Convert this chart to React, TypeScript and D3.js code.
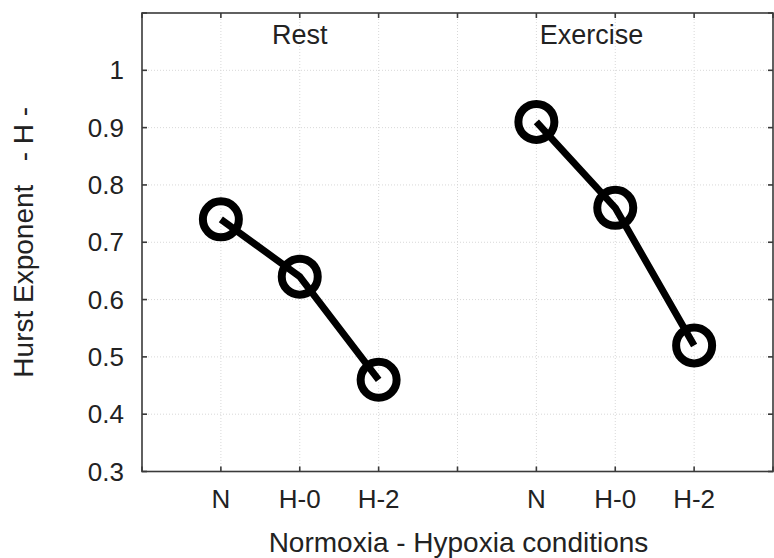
import React, { useRef, useEffect } from 'react'
import * as d3 from 'd3'

// conditions, x positions on the 0..8 axis, and Hurst exponent per panel
const conditions = ['N', 'H-0', 'H-2']
const restPos = [1, 2, 3]
const exercisePos = [5, 6, 7]
const restValues = [0.74, 0.64, 0.46]
const exerciseValues = [0.91, 0.76, 0.52]
const panelTitles = ['Rest', 'Exercise']
const yTicks = [0.3, 0.4, 0.5, 0.6, 0.7, 0.8, 0.9, 1.0, 1.1]
const yTickLabels = ['0.3', '0.4', '0.5', '0.6', '0.7', '0.8', '0.9', '1', '']

export default function App() {
  const ref = useRef<SVGSVGElement>(null)

  useEffect(() => {
    const svg = d3.select(ref.current)
    svg.selectAll('*').remove()

    const width = 774, height = 558
    const left = 142, right = 773, top = 13, bottom = 471.5
    const font = 'Liberation Sans, Arial, Helvetica, sans-serif'
    const axisColor = '#3a3a3a'

    const x = d3.scaleLinear().domain([0, 8]).range([left, right])
    const y = d3.scaleLinear().domain([0.3, 1.1]).range([bottom, top])
    const xTicks = d3.range(0, 9)

    svg.attr('width', width).attr('height', height)

    // faint dotted grid
    const grid = svg.append('g')
    grid.selectAll('line.gx')
      .data(xTicks.slice(1, -1))
      .join('line')
      .attr('x1', d => x(d)).attr('x2', d => x(d))
      .attr('y1', top).attr('y2', bottom)
      .attr('stroke', '#d8d8d8').attr('stroke-width', 1)
      .attr('stroke-dasharray', '1,2')
    grid.selectAll('line.gy')
      .data(yTicks.slice(1, -1))
      .join('line')
      .attr('y1', d => y(d)).attr('y2', d => y(d))
      .attr('x1', left).attr('x2', right)
      .attr('stroke', '#d8d8d8').attr('stroke-width', 1)
      .attr('stroke-dasharray', '1,2')

    // frame
    svg.append('rect')
      .attr('x', left).attr('y', top)
      .attr('width', right - left).attr('height', bottom - top)
      .attr('fill', 'none').attr('stroke', axisColor).attr('stroke-width', 1.6)

    // inward ticks on all four sides
    const tickLen = 5
    const ticks = svg.append('g').attr('stroke', axisColor).attr('stroke-width', 1.6)
    xTicks.forEach(t => {
      ticks.append('line').attr('x1', x(t)).attr('x2', x(t)).attr('y1', bottom).attr('y2', bottom - tickLen)
      ticks.append('line').attr('x1', x(t)).attr('x2', x(t)).attr('y1', top).attr('y2', top + tickLen)
    })
    yTicks.forEach(t => {
      ticks.append('line').attr('x1', left).attr('x2', left + tickLen).attr('y1', y(t)).attr('y2', y(t))
      ticks.append('line').attr('x1', right).attr('x2', right - tickLen).attr('y1', y(t)).attr('y2', y(t))
    })

    // y tick labels
    svg.append('g')
      .selectAll('text')
      .data(yTicks)
      .join('text')
      .attr('x', left - 18)
      .attr('y', d => y(d))
      .attr('dy', '0.35em')
      .attr('text-anchor', 'end')
      .style('font-family', font)
      .style('font-size', '26px')
      .attr('fill', '#222')
      .text((d, i) => yTickLabels[i])

    // x tick labels
    const allPos = restPos.concat(exercisePos)
    const allLabels = conditions.concat(conditions)
    svg.append('g')
      .selectAll('text')
      .data(allPos)
      .join('text')
      .attr('x', d => x(d))
      .attr('y', 508)
      .attr('text-anchor', 'middle')
      .style('font-family', font)
      .style('font-size', '26px')
      .attr('fill', '#222')
      .text((d, i) => allLabels[i])

    // panel titles
    svg.append('g')
      .selectAll('text')
      .data(panelTitles)
      .join('text')
      .attr('x', (d, i) => x(i === 0 ? 2 : 5.7))
      .attr('y', 44)
      .attr('text-anchor', 'middle')
      .style('font-family', font)
      .style('font-size', '27px')
      .attr('fill', '#222')
      .text(d => d)

    // axis titles
    svg.append('text')
      .attr('x', (left + right) / 2 + 1)
      .attr('y', 552)
      .attr('text-anchor', 'middle')
      .style('font-family', font)
      .style('font-size', '28px')
      .attr('fill', '#222')
      .text('Normoxia - Hypoxia conditions')

    svg.append('text')
      .attr('transform', `translate(33, ${(top + bottom) / 2}) rotate(-90)`)
      .attr('text-anchor', 'middle')
      .style('font-family', font)
      .style('font-size', '28px')
      .style('white-space', 'pre')
      .attr('fill', '#222')
      .text('Hurst Exponent   - H -')

    // series: thick line, then open rings on top
    const series = [
      restPos.map((p, i) => [p, restValues[i]] as [number, number]),
      exercisePos.map((p, i) => [p, exerciseValues[i]] as [number, number]),
    ]
    const line = d3.line<[number, number]>().x(d => x(d[0])).y(d => y(d[1]))

    series.forEach(pts => {
      svg.append('path')
        .attr('d', line(pts))
        .attr('fill', 'none')
        .attr('stroke', '#000')
        .attr('stroke-width', 7)
        .attr('stroke-linejoin', 'round')
      svg.append('g')
        .selectAll('circle')
        .data(pts)
        .join('circle')
        .attr('cx', d => x(d[0]))
        .attr('cy', d => y(d[1]))
        .attr('r', 18)
        .attr('fill', 'none')
        .attr('stroke', '#000')
        .attr('stroke-width', 8)
    })
  }, [])

  return (
    <svg
      ref={ref}
      style={{ position: 'absolute', left: 0, top: 0, background: '#fff' }}
    />
  )
}
